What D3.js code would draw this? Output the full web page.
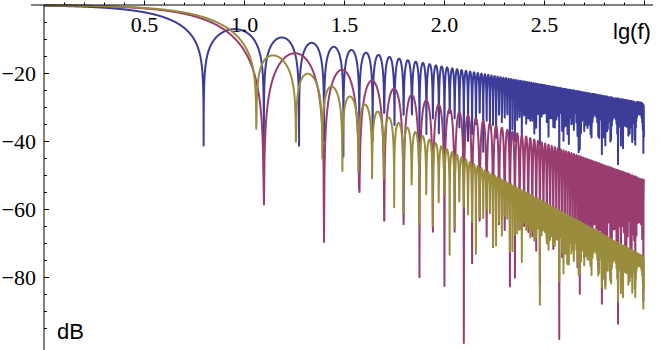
<!DOCTYPE html>
<html>
<head>
<meta charset="utf-8">
<script src="https://cdn.jsdelivr.net/npm/d3@7"></script>
<style>
  body { margin: 0; background: #fff; }
  svg { display: block; }
  .tick line { stroke: #000; }
  .lbl { font-family: "Liberation Sans", Arial, sans-serif; font-size: 22px; fill: #000; }
</style>
</head>
<body>
<svg width="660" height="350"></svg>
<script>
// smoothing kernels on [-1,1]; curves are lg|H| in dB over lg(f), H taken at x = f/2
var kernels = ["uniform", "triangle", "biweight"];
var colors = ["#3d3d99", "#993d71", "#998c3d"];
var lgRange = [0, 3];
var dbRange = [0, -100];
var dbPerDecade = 10.7;
var xMajor = [0.5, 1.0, 1.5, 2.0, 2.5];
var yMajor = [-20, -40, -60, -80];
// sampling like the original plot: finer where the lobes are still resolved
var fineUntil = 1.6;
var fineSteps = [0.00024, 0.0025, 0.000957];
var coarseStep = 0.00096;

var svg = d3.select("svg"),
    width = +svg.attr("width"),
    height = +svg.attr("height");

var x = d3.scaleLinear().domain(lgRange).range([44, 644]);
var y = d3.scaleLinear().domain(dbRange).range([5, 345]);

function response(kind, f) {
    var t = f / 2;
    if (kind == "uniform") return Math.sin(t) / t;
    if (kind == "triangle") {
        var s = Math.sin(t / 2) / (t / 2);
        return s * s;
    }
    // biweight (1-u^2)^2 -> 15 j2(t) / t^2
    if (t < 1) {
        var t2 = t * t;
        return 1 - t2 / 14 + t2 * t2 / 504 - t2 * t2 * t2 / 33264;
    }
    var j2 = (3 / (t * t * t) - 1 / t) * Math.sin(t) - 3 * Math.cos(t) / (t * t);
    return 15 * j2 / (t * t);
}

var series = kernels.map((k, i) => {
    var lgs = d3.range(lgRange[0], fineUntil, fineSteps[i])
        .concat(d3.range(fineUntil, lgRange[1] + 1e-9, coarseStep));
    return lgs.map(l => {
        var h = Math.abs(response(k, Math.pow(10, l)));
        return [l, dbPerDecade * Math.log10(Math.max(h, 1e-30))];
    });
});

svg.append("defs").append("clipPath").attr("id", "clip")
    .append("rect").attr("x", x(0)).attr("y", 0)
    .attr("width", width - x(0)).attr("height", height);

var line = d3.line()
    .x(d => x(d[0]))
    .y(d => y(Math.max(d[1], -130)));

svg.append("g").attr("clip-path", "url(#clip)")
    .selectAll("path")
    .data(series)
    .enter().append("path")
    .attr("fill", "none")
    .attr("stroke", (d, i) => colors[i])
    .attr("stroke-width", 2)
    .attr("stroke-linejoin", "round")
    .attr("d", line);

// x axis (ticks up, labels below)
var xMinor = d3.range(1, 31).map(i => i / 10).filter(v => Math.abs(v * 2 - Math.round(v * 2)) > 1e-6);
var gx = svg.append("g").attr("transform", "translate(0," + y(0) + ")");
gx.append("g").call(d3.axisBottom(x).tickValues(xMinor).tickSize(-2.5).tickFormat(""));
gx.append("g").call(d3.axisBottom(x).tickValues(xMajor.concat([3.0])).tickSize(-4.5).tickPadding(11)
    .tickFormat(v => v < 2.9 ? d3.format(".1f")(v) : ""));
gx.selectAll(".domain").remove();
gx.append("line").attr("x1", x(-0.065)).attr("x2", x(3.045))
    .attr("stroke", "#000").attr("stroke-width", 1);

// y axis (ticks right, labels left)
var yMinor = d3.range(1, 21).map(i => -5 * i).filter(v => v % 20 != 0);
var gy = svg.append("g").attr("transform", "translate(" + x(0) + ",0)");
gy.append("g").call(d3.axisLeft(y).tickValues(yMinor).tickSize(-3).tickFormat(""));
gy.append("g").call(d3.axisLeft(y).tickValues(yMajor).tickSizeInner(-5).tickSizeOuter(0).tickPadding(8));
gy.selectAll(".domain").remove();
gy.append("line").attr("y1", y(0)).attr("y2", height)
    .attr("stroke", "#000").attr("stroke-width", 1);

svg.selectAll(".tick text")
    .attr("font-family", "'Liberation Serif', 'Times New Roman', serif")
    .attr("font-size", 22)
    .attr("fill", "#000");

svg.append("text").attr("class", "lbl").attr("x", 613).attr("y", 39).text("lg(f)");
svg.append("text").attr("class", "lbl").attr("x", 57).attr("y", 339).text("dB");
</script>
</body>
</html>
